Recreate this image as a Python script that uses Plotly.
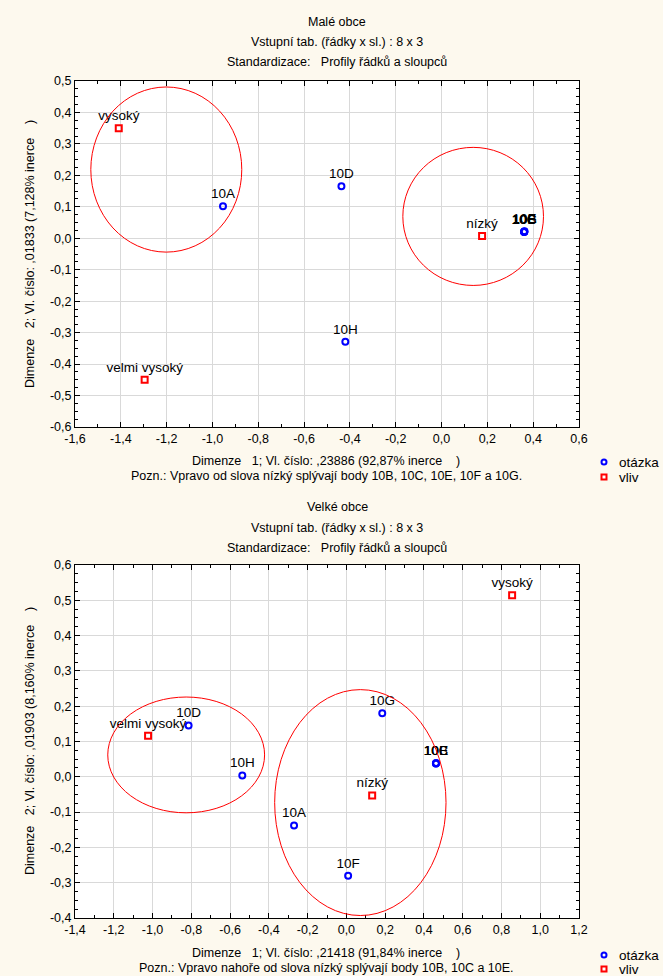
import plotly.graph_objects as go

W, H = 663, 976
NB = "\u00a0"

# ---------------- data: Malé obce (top) ----------------
top_q_labels = ["10A", "10D", "10H", "10C", "10E", "10F", "10G", "10B"]
top_q_x = [-0.954, -0.437, -0.420, 0.361, 0.362, 0.360, 0.361, 0.361]
top_q_y = [0.102, 0.165, -0.329, 0.021, 0.022, 0.020, 0.021, 0.021]
top_v_labels = ["vysoký", "velmi vysoký", "nízký"]
top_v_x = [-1.409, -1.296, 0.177]
top_v_y = [0.350, -0.450, 0.007]
top_ellipses = [(-1.531, -0.044, -0.872, 0.481), (-0.169, -0.150, 0.445, 0.289)]
top_xticks = [-1.6, -1.4, -1.2, -1.0, -0.8, -0.6, -0.4, -0.2, 0.0, 0.2, 0.4, 0.6]
top_xtext = ["-1,6", "-1,4", "-1,2", "-1,0", "-0,8", "-0,6", "-0,4", "-0,2", "0,0", "0,2", "0,4", "0,6"]
top_yticks = [-0.6, -0.5, -0.4, -0.3, -0.2, -0.1, 0.0, 0.1, 0.2, 0.3, 0.4, 0.5]
top_ytext = ["-0,6", "-0,5", "-0,4", "-0,3", "-0,2", "-0,1", "0,0", "0,1", "0,2", "0,3", "0,4", "0,5"]

# ---------------- data: Velké obce (bottom) ----------------
bot_q_labels = ["10A", "10D", "10H", "10G", "10F", "10C", "10E", "10B"]
bot_q_x = [-0.270, -0.814, -0.537, 0.185, 0.009, 0.462, 0.463, 0.462]
bot_q_y = [-0.138, 0.145, 0.004, 0.180, -0.280, 0.038, 0.039, 0.038]
bot_v_labels = ["velmi vysoký", "vysoký", "nízký"]
bot_v_x = [-1.023, 0.855, 0.133]
bot_v_y = [0.116, 0.514, -0.053]
bot_ellipses = [(-1.231, -0.102, -0.422, 0.226), (-0.370, -0.393, 0.514, 0.247)]
bot_xticks = [-1.4, -1.2, -1.0, -0.8, -0.6, -0.4, -0.2, 0.0, 0.2, 0.4, 0.6, 0.8, 1.0, 1.2]
bot_xtext = ["-1,4", "-1,2", "-1,0", "-0,8", "-0,6", "-0,4", "-0,2", "0,0", "0,2", "0,4", "0,6", "0,8", "1,0", "1,2"]
bot_yticks = [-0.4, -0.3, -0.2, -0.1, 0.0, 0.1, 0.2, 0.3, 0.4, 0.5, 0.6]
bot_ytext = ["-0,4", "-0,3", "-0,2", "-0,1", "0,0", "0,1", "0,2", "0,3", "0,4", "0,5", "0,6"]

legend_names = ["otázka", "vliv"]

titles_top = ["Malé obce", "Vstupní tab. (řádky x sl.) : 8 x 3", "Standardizace:" + NB * 3 + "Profily řádků a sloupců"]
titles_bot = ["Velké obce", "Vstupní tab. (řádky x sl.) : 8 x 3", "Standardizace:" + NB * 3 + "Profily řádků a sloupců"]
xtitle_top = "Dimenze" + NB * 3 + "1; Vl. číslo: ,23886 (92,87% inerce" + NB * 4 + ")"
note_top = "Pozn.: Vpravo od slova nízký splývají body 10B, 10C, 10E, 10F a 10G."
ytitle_top = "Dimenze" + NB * 3 + "2; Vl. číslo: ,01833 (7,128% inerce" + NB * 4 + ")"
xtitle_bot = "Dimenze" + NB * 3 + "1; Vl. číslo: ,21418 (91,84% inerce" + NB * 4 + ")"
note_bot = "Pozn.: Vpravo nahoře od slova nízký splývají body 10B, 10C a 10E."
ytitle_bot = "Dimenze" + NB * 3 + "2; Vl. číslo: ,01903 (8,160% inerce" + NB * 4 + ")"

FONT = "Arial, Liberation Sans, sans-serif"
BLUE = "#0000ff"
RED = "#ff0000"

fig = go.Figure()

def add_panel(qx, qy, ql, vx, vy, vl, xa, ya):
    fig.add_trace(go.Scatter(
        x=qx, y=qy, text=ql, mode="markers+text", name=legend_names[0],
        textposition="top center", textfont=dict(family=FONT, size=13.5, color="black"),
        marker=dict(symbol="circle-open", size=6, color=BLUE, line=dict(width=2, color=BLUE)),
        xaxis=xa, yaxis=ya, showlegend=False, cliponaxis=False))
    fig.add_trace(go.Scatter(
        x=vx, y=vy, text=vl, mode="markers+text", name=legend_names[1],
        textposition="top center", textfont=dict(family=FONT, size=13.5, color="black"),
        marker=dict(symbol="square-open", size=6, color=RED, line=dict(width=2, color=RED)),
        xaxis=xa, yaxis=ya, showlegend=False, cliponaxis=False))

add_panel(top_q_x, top_q_y, top_q_labels, top_v_x, top_v_y, top_v_labels, "x", "y")
add_panel(bot_q_x, bot_q_y, bot_q_labels, bot_v_x, bot_v_y, bot_v_labels, "x2", "y2")

for (x0, y0, x1, y1) in top_ellipses:
    fig.add_shape(type="circle", xref="x", yref="y", x0=x0, y0=y0, x1=x1, y1=y1,
                  line=dict(color=RED, width=1), layer="above")
for (x0, y0, x1, y1) in bot_ellipses:
    fig.add_shape(type="circle", xref="x2", yref="y2", x0=x0, y0=y0, x1=x1, y1=y1,
                  line=dict(color=RED, width=1), layer="above")

def px(x):
    return x / W

def py(y):
    return 1 - y / H

L, R = 75, 579
top_t, top_b = 81, 427
bot_t, bot_b = 565, 918

common_ax = dict(showline=True, linecolor="black", linewidth=1, mirror="ticks",
                 ticks="inside", ticklen=5, tickcolor="black", automargin=False,
                 showgrid=True, gridcolor="#d9d9d9", gridwidth=1, zeroline=False,
                 tickfont=dict(family=FONT, size=12.5, color="black"))

fig.update_layout(
    xaxis=dict(domain=[px(L), px(R)], range=[-1.6, 0.6], anchor="y",
               tickvals=top_xticks, ticktext=top_xtext,
               minor=dict(dtick=0.1, ticks="inside", ticklen=3, tickcolor="black", showgrid=False),
               **common_ax),
    yaxis=dict(domain=[py(top_b), py(top_t)], range=[-0.6, 0.5], anchor="x",
               tickvals=top_yticks, ticktext=top_ytext,
               minor=dict(dtick=0.025, ticks="inside", ticklen=3, tickcolor="black", showgrid=False),
               **common_ax),
    xaxis2=dict(domain=[px(L), px(R)], range=[-1.4, 1.2], anchor="y2",
                tickvals=bot_xticks, ticktext=bot_xtext,
                minor=dict(dtick=0.1, ticks="inside", ticklen=3, tickcolor="black", showgrid=False),
                **common_ax),
    yaxis2=dict(domain=[py(bot_b), py(bot_t)], range=[-0.4, 0.6], anchor="x2",
                tickvals=bot_yticks, ticktext=bot_ytext,
                minor=dict(dtick=0.025, ticks="inside", ticklen=3, tickcolor="black", showgrid=False),
                **common_ax),
    width=W, height=H,
    margin=dict(l=0, r=0, t=0, b=0),
    paper_bgcolor="#fdf9ee",
    plot_bgcolor="white",
    font=dict(family=FONT, size=12, color="black"),
    showlegend=False,
)

ann = []
def text_at(x, y, s, size=12.5, angle=0, anchor="center"):
    ann.append(dict(x=px(x), y=py(y), xref="paper", yref="paper", text=s, showarrow=False,
                    xanchor=anchor, yanchor="middle", textangle=angle,
                    font=dict(family=FONT, size=size, color="black")))

for s, yy in zip(titles_top, [22, 42, 62]):
    text_at(337, yy, s)
for s, yy in zip(titles_bot, [507, 528, 548]):
    text_at(337, yy, s)
text_at(326, 461, xtitle_top)
text_at(326, 476, note_top)
text_at(30, 254, ytitle_top, angle=-90)
text_at(326, 953, xtitle_bot)
text_at(326, 968, note_bot)
text_at(30, 741, ytitle_bot, angle=-90)

# legends (drawn manually, one per panel)
for (yq, yv) in [(462, 477), (955, 969)]:
    text_at(617, yq, legend_names[0], size=13.5, anchor="left")
    text_at(617, yv, legend_names[1], size=13.5, anchor="left")
    fig.add_shape(type="circle", xref="paper", yref="paper",
                  x0=px(601.5), x1=px(606.5), y0=py(yq + 2.5), y1=py(yq - 2.5),
                  line=dict(color=BLUE, width=2), fillcolor="white")
    fig.add_shape(type="rect", xref="paper", yref="paper",
                  x0=px(601.5), x1=px(606.5), y0=py(yv + 2.5), y1=py(yv - 2.5),
                  line=dict(color=RED, width=2), fillcolor="white")

fig.update_layout(annotations=ann)

fig.write_html("out.html",
               config={"displayModeBar": False},
               post_script="document.body.style.margin='0';document.body.style.padding='0';"
                           "document.body.style.overflow='hidden';")
